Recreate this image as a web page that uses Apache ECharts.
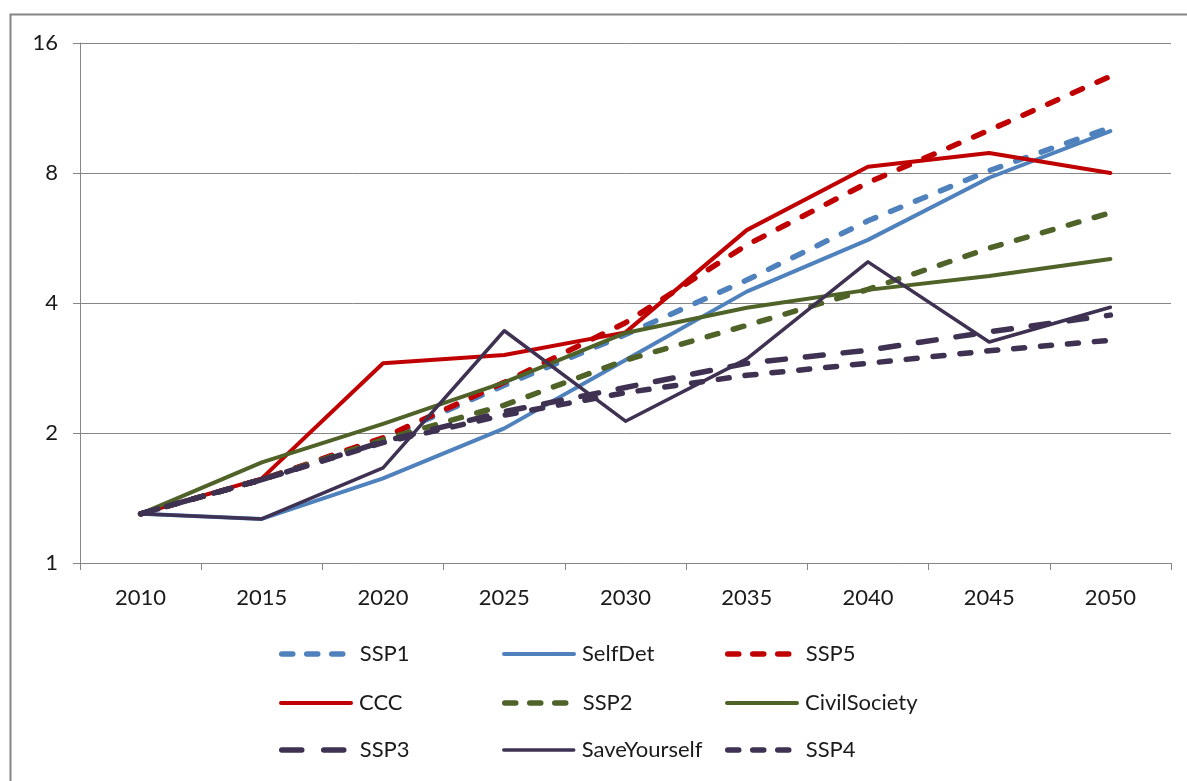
<!DOCTYPE html>
<html lang="en">
<head>
    <meta charset="UTF-8">
    <script src="https://cdn.jsdelivr.net/npm/echarts@6/dist/echarts.min.js"></script>
    <title>SSP scenarios</title>
    <style>
        html, body { margin: 0; padding: 0; background: #fff; }
    </style>
</head>
<body>
<div id="main" style="width: 1187px;height: 781px"></div>
<script type="text/javascript">
    // data
    var years = ['2010', '2015', '2020', '2025', '2030', '2035', '2040', '2045', '2050'];
    var ssp1 = [1.30, 1.56, 1.94, 2.58, 3.38, 4.52, 6.2, 8.1, 10.2];
    var selfDet = [1.30, 1.265, 1.57, 2.05, 2.95, 4.25, 5.6, 7.8, 10.0];
    var ssp5 = [1.30, 1.56, 1.95, 2.62, 3.6, 5.45, 7.6, 10.05, 13.4];
    var ccc = [1.30, 1.57, 2.9, 3.03, 3.42, 5.9, 8.27, 8.9, 8.0];
    var ssp2 = [1.30, 1.56, 1.93, 2.32, 2.95, 3.55, 4.3, 5.36, 6.47];
    var civilSociety = [1.30, 1.71, 2.1, 2.62, 3.41, 3.9, 4.29, 4.62, 5.06];
    var ssp3 = [1.30, 1.56, 1.91, 2.24, 2.55, 2.9, 3.11, 3.43, 3.75];
    var saveYourself = [1.30, 1.265, 1.66, 3.45, 2.13, 2.97, 4.98, 3.25, 3.91];
    var ssp4 = [1.30, 1.56, 1.9, 2.2, 2.48, 2.72, 2.9, 3.1, 3.28];

    var blue = '#4f81bd', red = '#c00000', green = '#4f6228', purple = '#3f3151';
    var font = 'Lato, "Open Sans", sans-serif';

    function line(name, data, color, dash, width) {
        return {
            name: name,
            type: 'line',
            data: data,
            symbol: 'none',
            lineStyle: {color: color, width: width, type: dash, cap: 'round', join: 'round'},
            itemStyle: {color: color}
        };
    }

    var series = [
        line('SSP1', ssp1, blue, [11, 16], 5.5),
        line('SelfDet', selfDet, blue, 'solid', 4),
        line('SSP5', ssp5, red, [11, 16], 5.5),
        line('CCC', ccc, red, 'solid', 4),
        line('SSP2', ssp2, green, [11, 16], 5.5),
        line('CivilSociety', civilSociety, green, 'solid', 4),
        line('SSP3', ssp3, purple, [18, 20], 5.5),
        line('SaveYourself', saveYourself, purple, 'solid', 3.5),
        line('SSP4', ssp4, purple, [11, 16], 5.5)
    ];

    // legend: 3 columns x 3 rows, one legend per item so the columns line up
    var colX = [279, 502, 725];
    var rowY = [655, 704, 751];
    var legends = series.map(function (s, i) {
        var ls = s.lineStyle;
        var dash = ls.type === 'solid' ? 'solid' : (s.name === 'SSP3' ? [20, 22] : [11, 14]);
        return {
            data: [s.name],
            left: colX[i % 3],
            top: rowY[Math.floor(i / 3)] - 12,
            padding: 0,
            itemWidth: 70,
            itemHeight: 24,
            itemGap: 0,
            selectedMode: false,
            itemStyle: {opacity: 0},
            lineStyle: {width: ls.width, type: dash, cap: 'round', color: ls.color},
            textStyle: {fontFamily: font, fontSize: 22, color: '#1a1a1a', padding: [0, 0, 0, 3]}
        };
    });

    var myChart = echarts.init(document.getElementById('main'));
    myChart.setOption({
        animation: false,
        graphic: [{
            type: 'rect',
            shape: {x: 10.5, y: 14.5, width: 1300, height: 900},
            style: {fill: 'none', stroke: '#858585', lineWidth: 2},
            silent: true
        }],
        grid: {left: 80, right: 16, top: 43, bottom: 218},
        legend: legends,
        xAxis: {
            type: 'category',
            data: years,
            boundaryGap: true,
            axisLine: {lineStyle: {color: '#868686', width: 1}},
            axisTick: {show: true, length: 7, interval: 0, lineStyle: {color: '#868686'}},
            axisLabel: {margin: 24, fontFamily: font, fontSize: 22, color: '#1a1a1a'}
        },
        yAxis: {
            type: 'log',
            logBase: 2,
            min: 1,
            max: 16,
            axisLine: {show: true, lineStyle: {color: '#868686', width: 1}},
            axisTick: {show: true, length: 7, lineStyle: {color: '#868686'}},
            splitLine: {lineStyle: {color: '#868686', width: 1}},
            axisLabel: {margin: 22, fontFamily: font, fontSize: 22, color: '#1a1a1a'}
        },
        series: series
    });
</script>
</body>
</html>
